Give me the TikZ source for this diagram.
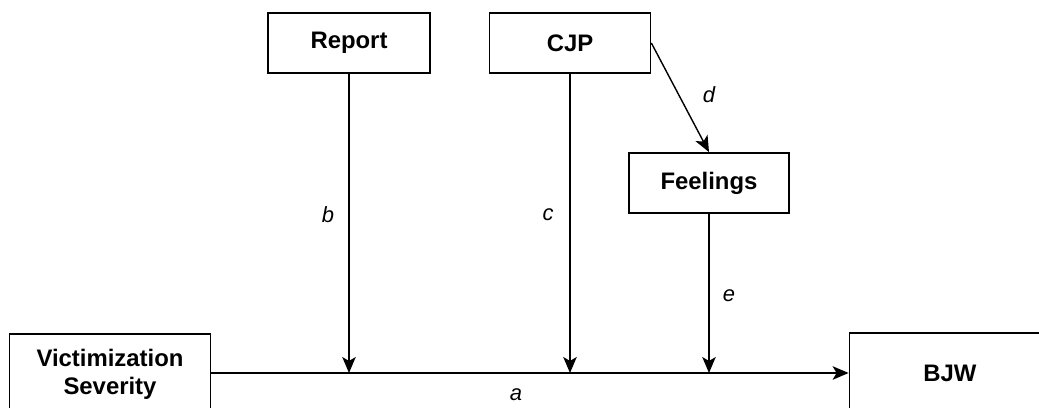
\documentclass[tikz,border=0pt]{standalone}
\usepackage{fontspec}
\setmainfont{Liberation Sans}
\usetikzlibrary{arrows.meta}

\tikzset{
  box/.style={draw, line width=1pt, font=\fontsize{13.6}{16}\selectfont\bfseries, align=center, inner sep=0pt},
  lbl/.style={font=\fontsize{12.5}{14}\selectfont\itshape},
}

\begin{document}
\begin{tikzpicture}[x=0.02cm, y=-0.02cm, >={Stealth[length=0.32cm,width=0.27cm,inset=0.08cm]}, line width=0.8pt]
\useasboundingbox (0,0) rectangle (1039,408);
\node[box, minimum width=3.24cm, minimum height=1.2cm] (report) at (349,43) {Report};
\node[box, minimum width=3.22cm, minimum height=1.2cm] (cjp) at (570,43) {CJP};
\node[box, minimum width=3.2cm, minimum height=1.2cm] (feel) at (709,183) {Feelings};
\node[box, minimum width=4.02cm, minimum height=1.6cm] (vs) at (110,374) {Victimization\\Severity};
\node[box, minimum width=4.02cm, minimum height=1.6cm] (bjw) at (950,373) {BJW};
% junctions on the main path
\coordinate (jb) at (349,373);
\coordinate (jc) at (570,373);
\coordinate (je) at (709,373);
\draw[->] (vs.east |- bjw.west) -- (bjw);
\draw[->] (report) -- (jb);
\draw[->] (cjp) -- (jc);
\draw[->] (feel) -- (je);
\draw[->] (cjp.east) -- (feel.north);
\node[lbl] (la) at (516,395) {a};
\node[lbl] (lb) at (328,215) {b};
\node[lbl] (lc) at (548,215) {c};
\node[lbl] (ld) at (709,95) {d};
\node[lbl] (le) at (729,296) {e};
\end{tikzpicture}
\end{document}
